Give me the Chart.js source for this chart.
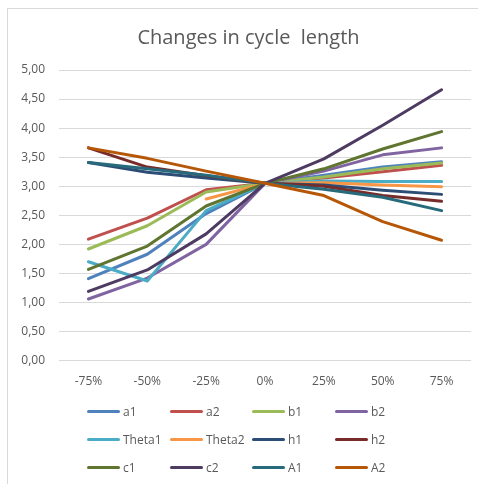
<!DOCTYPE html>
<html>
<head>
<meta charset="utf-8">
<script src="https://cdn.jsdelivr.net/npm/chart.js@4"></script>
<style>
    html, body { margin: 0; padding: 0; background: #ffffff; }
    #wrap { position: relative; width: 478px; height: 484px; overflow: hidden; }
    #frame { position: absolute; left: 7px; top: 8px; width: 480px; height: 490px; border: 1px solid #d9d9d9; box-sizing: border-box; }
    #chart { position: absolute; left: 0; top: 0; }
    #title { position: absolute; left: 0; width: 497px; top: 23px; text-align: center; font-family: "Open Sans", sans-serif; font-size: 20px; line-height: 28px; color: #595959; white-space: pre; }
    #legend { position: absolute; left: 87px; top: 400px; width: 380px; font-family: "Open Sans", sans-serif; font-size: 12px; color: #595959; }
    .row { height: 28px; position: relative; }
    .item { position: absolute; top: 0; height: 24px; line-height: 24px; white-space: nowrap; }
    .swatch { display: inline-block; width: 33px; height: 3px; border-radius: 2px; vertical-align: middle; margin-right: 3px; position: relative; top: -1px; }
</style>
</head>
<body>
<div id="wrap">
    <div id="frame"></div>
    <canvas id="chart" width="478" height="484"></canvas>
    <div id="title"></div>
    <div id="legend"></div>
</div>
<script>
const chartTitle = "Changes in cycle  length";

// categories (x axis)
const categories = ["-75%", "-50%", "-25%", "0%", "25%", "50%", "75%"];

// series names and colours
const seriesNames = ["a1", "a2", "b1", "b2", "Theta1", "Theta2", "h1", "h2", "c1", "c2", "A1", "A2"];
const seriesColors = [
    "#4F81BD", "#C0504D", "#9BBB59", "#8064A2", "#4BACC6", "#F79646",
    "#2C4D75", "#772C2A", "#5F7530", "#4D3B62", "#276A7C", "#B65708",
];

// values
const a1 = [1.41, 1.83, 2.53, 3.05, 3.19, 3.33, 3.42];
const a2 = [2.09, 2.45, 2.94, 3.05, 3.14, 3.25, 3.36];
const b1 = [1.92, 2.32, 2.90, 3.05, 3.16, 3.30, 3.40];
const b2 = [1.06, 1.42, 2.00, 3.05, 3.26, 3.54, 3.66];
const theta1 = [1.70, 1.37, 2.58, 3.05, 3.09, 3.08, 3.08];
const theta2 = [null, null, 2.78, 3.05, 3.06, 3.02, 2.99];
const h1 = [3.41, 3.24, 3.14, 3.05, 3.02, 2.93, 2.86];
const h2 = [3.66, 3.33, 3.18, 3.05, 3.00, 2.84, 2.74];
const c1 = [1.57, 1.97, 2.66, 3.05, 3.30, 3.64, 3.94];
const c2 = [1.19, 1.56, 2.18, 3.05, 3.47, 4.05, 4.66];
const A1 = [3.41, 3.30, 3.19, 3.05, 2.95, 2.81, 2.58];
const A2 = [3.66, 3.48, 3.26, 3.05, 2.84, 2.39, 2.07];

const seriesValues = [a1, a2, b1, b2, theta1, theta2, h1, h2, c1, c2, A1, A2];

// y axis
const yMin = 0;
const yMax = 5;
const yStep = 0.5;

const datasets = seriesNames.map((name, i) => ({
    label: name,
    data: seriesValues[i],
    borderColor: seriesColors[i],
    backgroundColor: seriesColors[i],
    borderWidth: 3,
    borderCapStyle: "round",
    borderJoinStyle: "round",
    pointRadius: 0,
    tension: 0,
    spanGaps: false,
    order: seriesNames.length - i,   // later series drawn on top, like Excel
}));

document.getElementById("title").textContent = chartTitle;

const ctx = document.getElementById("chart").getContext("2d");

new Chart(ctx, {
    type: "line",
    data: {
        labels: categories,
        datasets: datasets,
    },
    options: {
        responsive: false,
        animation: false,
        layout: {
            padding: { left: 7, right: 7, top: 70, bottom: 89 },
        },
        plugins: {
            legend: { display: false },
            tooltip: { enabled: false },
            title: { display: false },
        },
        scales: {
            x: {
                offset: true,
                grid: { display: false },
                border: { display: false },
                ticks: {
                    color: "#595959",
                    font: { family: "Open Sans", size: 12 },
                    padding: 6,
                    maxRotation: 0,
                },
            },
            y: {
                min: yMin,
                max: yMax,
                grid: { color: "#d9d9d9", lineWidth: 1, drawTicks: false },
                border: { display: false },
                ticks: {
                    stepSize: yStep,
                    color: "#595959",
                    font: { family: "Open Sans", size: 12 },
                    padding: 14,
                    callback: (v) => v.toFixed(2).replace(".", ","),
                },
                afterFit: (scale) => { scale.width = 52; },
            },
        },
    },
});

// legend in Excel's fixed grid of 4 columns
const legendEl = document.getElementById("legend");
const colX = [0, 83, 165, 248];
for (let r = 0; r < 3; r++) {
    const row = document.createElement("div");
    row.className = "row";
    for (let c = 0; c < 4; c++) {
        const i = r * 4 + c;
        const item = document.createElement("div");
        item.className = "item";
        item.style.left = colX[c] + "px";
        item.innerHTML = '<span class="swatch" style="background:' + seriesColors[i] + '"></span>' + seriesNames[i];
        row.appendChild(item);
    }
    legendEl.appendChild(row);
}
</script>
</body>
</html>
